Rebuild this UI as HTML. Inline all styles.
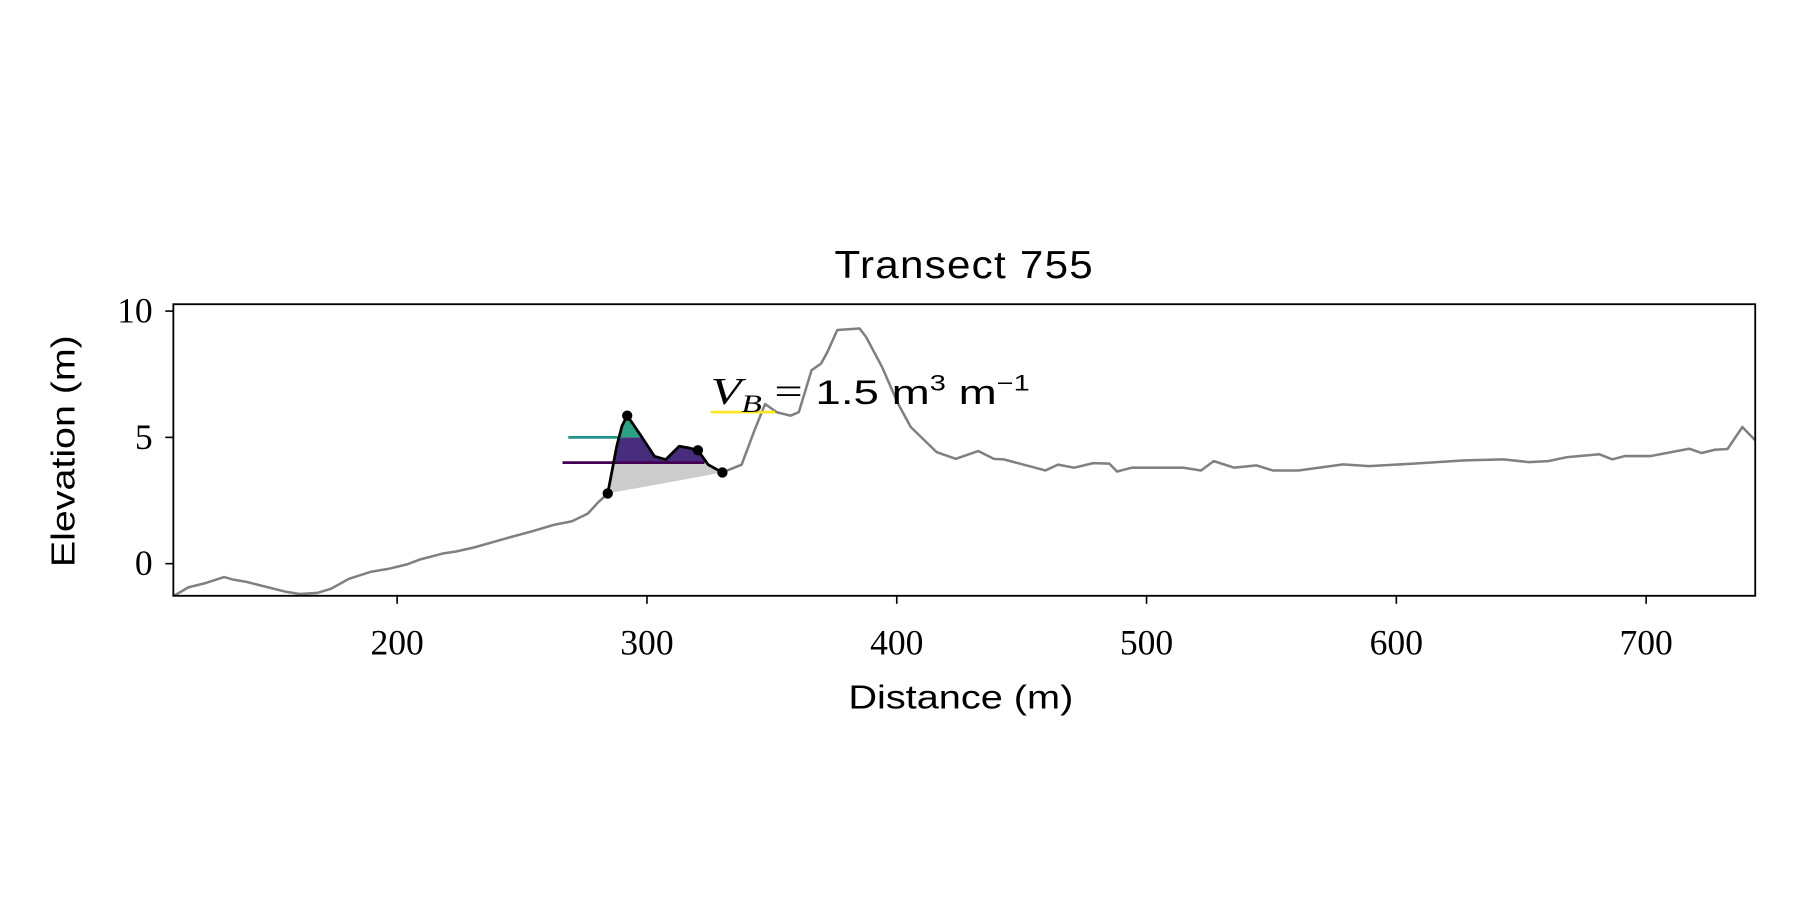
<!DOCTYPE html>
<html><head><meta charset="utf-8"><style>html,body{margin:0;padding:0;background:#fff}svg{display:block}</style></head>
<body>
<svg id="chart" width="1800" height="900" viewBox="0 0 1568 784" xmlns="http://www.w3.org/2000/svg" font-family="'Liberation Sans', 'DejaVu Sans', sans-serif">
<defs><clipPath id="plotclip"><rect x="151" y="265" width="1378" height="254"/></clipPath><clipPath id="bermclip"><polygon id="bermpoly"/></clipPath></defs>
<g id="fills" clip-path="url(#plotclip)"></g>
<g id="marks" clip-path="url(#plotclip)"></g>
<rect x="151" y="265" width="1378" height="254" fill="none" stroke="#000" stroke-width="1.6"/>
<g id="axes"></g>
<text x="840" y="242" text-anchor="middle" font-size="34" letter-spacing="1" textLength="226" lengthAdjust="spacingAndGlyphs">Transect 755</text>
<text x="837" y="617" text-anchor="middle" font-size="29" textLength="196" lengthAdjust="spacingAndGlyphs">Distance (m)</text>
<text transform="translate(65,393) rotate(-90)" text-anchor="middle" font-size="29" textLength="202" lengthAdjust="spacingAndGlyphs">Elevation (m)</text>
<text x="619" y="352" font-size="30" textLength="278" lengthAdjust="spacingAndGlyphs"><tspan font-family="'Liberation Serif', serif" font-style="italic" font-size="33">V</tspan><tspan font-family="'Liberation Serif', serif" font-style="italic" font-size="22" dy="7">B</tspan><tspan dy="-7" font-family="'Liberation Serif', serif" font-size="33"> = </tspan>1.5 m<tspan font-size="19" dy="-12">3</tspan><tspan dy="12"> m</tspan><tspan font-size="19" dy="-12">−1</tspan></text>
<script>
const xTicks=[200,300,400,500,600,700];
const yTicks=[0,5,10];
const profileX=[110.2,116.4,123.6,130.7,134.3,139.6,146.8,155.7,161,168,173.6,180.7,189.6,196.8,203.9,209.3,218.2,223.6,230.7,237.9,245,254,262.9,270,276.3,280.7,284.3,287.9,290,292.1,297.7,303,307.5,312.9,316.4,320.4,324.5,330.2,337.9,343.2,347.3,352.1,357.5,360.8,365.9,369.7,372.3,376.2,385.1,387.7,394.1,400.5,405.6,415.9,423.6,432.6,438.9,442.8,459.5,464.6,471,478.7,485.1,488.2,494.1,514.6,521.8,526.9,535.1,544.1,550.5,560.8,578.7,589,606.9,627.4,642.8,653.1,660.8,668.5,681.3,686.4,691.5,701.8,717.2,722.3,727.4,732.6,738.5,744.6];
const profileY=[-1.3,-0.94,-0.76,-0.53,-0.63,-0.72,-0.9,-1.12,-1.2,-1.16,-0.99,-0.6,-0.32,-0.2,-0.03,0.17,0.4,0.48,0.64,0.84,1.04,1.28,1.54,1.68,1.98,2.45,2.78,4.65,5.45,5.86,5.05,4.25,4.12,4.65,4.59,4.49,3.92,3.61,3.92,5.32,6.32,5.99,5.86,6.0,7.66,7.92,8.39,9.25,9.31,8.98,7.79,6.34,5.41,4.42,4.15,4.46,4.15,4.13,3.69,3.92,3.8,3.98,3.96,3.65,3.8,3.8,3.69,4.06,3.8,3.89,3.69,3.69,3.93,3.86,3.96,4.09,4.13,4.02,4.06,4.22,4.33,4.13,4.26,4.26,4.55,4.38,4.51,4.54,5.41,4.79];
const bermX=[284.3,287.9,290,292.1,297.7,303,307.5,312.9,316.4,320.4,324.5,330.2];
const bermY=[2.78,4.65,5.45,5.86,5.05,4.25,4.12,4.65,4.59,4.49,3.92,3.61];
const keyX=[284.3,292.1,320.4,330.2];
const keyY=[2.78,5.86,4.49,3.61];
const levelY=[4.0,5.0,6.0];
const levelX0=[266.2,268.5,325.5];
const levelX1=[323,290,351.3];
const levelColors=['#440154','#21918c','#fde725'];
const bandColors=['#cccccc','#472d7b','#2ba185'];
const NS='http://www.w3.org/2000/svg';
const xs=v=>151+(v-110.4)*2.176;
const ys=v=>491-v*22;
function mk(tag,attrs,parent){const e=document.createElementNS(NS,tag);for(const k in attrs)e.setAttribute(k,attrs[k]);parent.appendChild(e);return e;}
const axes=document.getElementById('axes'),marks=document.getElementById('marks'),fills=document.getElementById('fills');
xTicks.forEach(t=>{
 const l=mk('line',{x1:xs(t),x2:xs(t),y1:519,y2:526,stroke:'#000','stroke-width':1.4},axes);
 
 
 const tx=mk('text',{x:xs(t),y:570,'text-anchor':'middle','font-size':31,'font-family':"'Liberation Serif', serif"},axes);
 tx.textContent=t;
 
 
});
yTicks.forEach(t=>{
 const l=mk('line',{x1:144,x2:151,y1:ys(t),y2:ys(t),stroke:'#000','stroke-width':1.4},axes);
 
 
 const tx=mk('text',{x:133,y:ys(t)+10,'text-anchor':'end','font-size':31,'font-family':"'Liberation Serif', serif"},axes);
 tx.textContent=t;
 
 
});
document.getElementById('bermpoly').setAttribute('points',bermX.map((x,i)=>xs(x)+','+ys(bermY[i])).join(' '));
const g=mk('g',{'clip-path':'url(#bermclip)'},fills);


const bands=[[-5,levelY[0]],[levelY[0],levelY[1]],[levelY[1],20]];
bands.forEach((b,i)=>{
 const r=mk('rect',{x:151,width:1378,y:ys(b[1]),height:ys(b[0])-ys(b[1]),fill:bandColors[i]},g);
 
 
});
const prof=mk('polyline',{points:profileX.map((x,i)=>xs(x)+','+ys(profileY[i])).join(' '),fill:'none',stroke:'#808080','stroke-width':2.2,'stroke-linejoin':'round'},marks);


levelY.forEach((v,i)=>{
 const l=mk('line',{x1:xs(levelX0[i]),x2:xs(levelX1[i]),y1:ys(v),y2:ys(v),stroke:levelColors[i],'stroke-width':2.4},marks);
 
 
});
const berm=mk('polyline',{points:bermX.map((x,i)=>xs(x)+','+ys(bermY[i])).join(' '),fill:'none',stroke:'#000','stroke-width':2.4,'stroke-linejoin':'round'},marks);


keyX.forEach((x,i)=>{
 const c=mk('circle',{cx:xs(x),cy:ys(keyY[i]),r:4.5,fill:'#000'},marks);
 
 
});
</script>
</svg>
</body></html>
